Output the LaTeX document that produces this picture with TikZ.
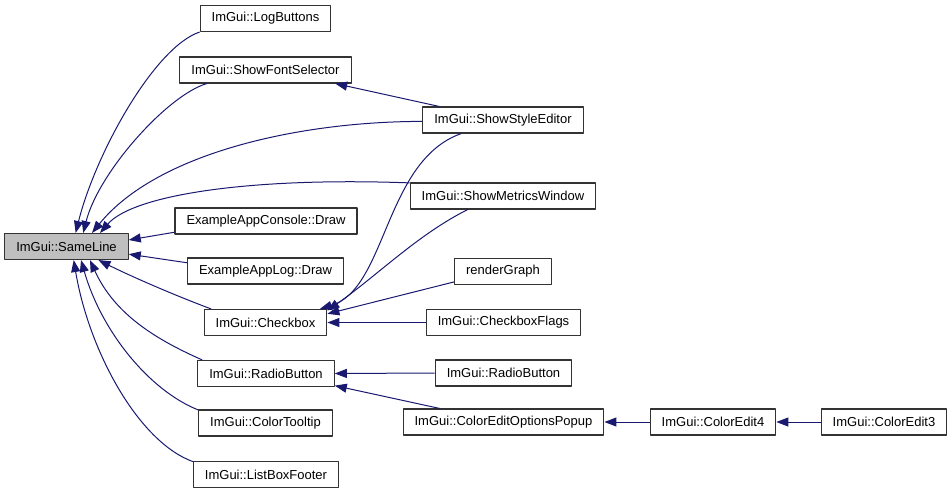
\documentclass[tikz,border=0pt]{standalone}
\usepackage{fontspec}
\setmainfont{Liberation Sans}
\usetikzlibrary{arrows.meta}
\definecolor{edgeblue}{RGB}{25, 25, 112}
\definecolor{rootgray}{RGB}{191, 191, 191}

\begin{document}
\begin{tikzpicture}[x=1pt, y=1pt, line join=round, >={Triangle[length=12pt, width=9pt]},
    fn/.style={draw=black!80, line width=1.1pt, inner xsep=11.5pt, inner ysep=0pt,
        minimum height=26pt, font=\fontsize{13}{15}\selectfont},
    root/.style={fn, fill=rootgray},
    call/.style={->, color=edgeblue, line width=1pt}]
    \useasboundingbox (0,0) rectangle (952,-493);

    % Hàm gốc
    \node[root] (sameline) at (66.5,-246.5) {ImGui::SameLine};

    % Cột thứ nhất
    \node[fn] (logbuttons) at (265.5,-18.5) {ImGui::LogButtons};
    \node[fn] (fontsel) at (265.5,-70) {ImGui::ShowFontSelector};
    \node[fn] (console) at (266,-221) {ExampleAppConsole::Draw};
    \node[fn] (applog) at (265.5,-271) {ExampleAppLog::Draw};
    \node[fn] (checkbox) at (265.5,-322.5) {ImGui::Checkbox};
    \node[fn] (radio) at (266,-373.5) {ImGui::RadioButton};
    \node[fn] (colortip) at (265.5,-423) {ImGui::ColorTooltip};
    \node[fn] (listbox) at (266,-474.5) {ImGui::ListBoxFooter};

    % Cột thứ hai
    \node[fn] (styleedit) at (503,-120) {ImGui::ShowStyleEditor};
    \node[fn] (metrics) at (503,-196) {ImGui::ShowMetricsWindow};
    \node[fn] (rendergraph) at (503,-271.5) {renderGraph};
    \node[fn] (flags) at (503.5,-322.5) {ImGui::CheckboxFlags};
    \node[fn] (radiotwo) at (503.5,-373) {ImGui::RadioButton};
    \node[fn] (popup) at (503.5,-422) {ImGui::ColorEditOptionsPopup};

    % Cột thứ ba, thứ tư
    \node[fn] (editfour) at (713,-422) {ImGui::ColorEdit4};
    \node[fn] (editthree) at (884,-422) {ImGui::ColorEdit3};

    % Lời gọi tới SameLine
    \draw[call] (logbuttons.south west) .. controls +(-45,-15) and +(20,80) .. (sameline.56);
    \draw[call] (fontsel.193) .. controls +(-40,-12) and +(15,60) .. (sameline.39);
    \draw[call] (styleedit.181) .. controls +(-123,0) and +(65,80) .. (sameline.28);
    \draw[call] (metrics.172) .. controls +(-160,6) and +(33,38) .. (sameline.22);
    \draw[call] (console.187) -- (sameline.6);
    \draw[call] (applog.174) -- (sameline.-7);
    \draw[call] (checkbox.166) .. controls +(-40,15) and +(30,-15) .. (sameline.-23);
    \draw[call] (radio.168) .. controls +(-45,20) and +(25,-55) .. (sameline.-30);
    \draw[call] (colortip.169) .. controls +(-50,20) and +(20,-70) .. (sameline.-43);
    \draw[call] (listbox.170) .. controls +(-55,20) and +(15,-90) .. (sameline.-62);

    % Các lời gọi còn lại
    \draw[call] (styleedit.168) -- (fontsel.-11);
    \draw[call] (styleedit.198) .. controls +(-77,-27) and +(67,20) .. (checkbox.14);
    \draw[call] (metrics.201) .. controls +(-50,-25) and +(50,35) .. (checkbox.11);
    \draw[call] (rendergraph.192) -- (checkbox.8);
    \draw[call] (flags.west) -- (checkbox.east);
    \draw[call] (radiotwo.west) -- (radio.east);
    \draw[call] (popup.168) -- (radio.-10);
    \draw[call] (editfour.west) -- (popup.east);
    \draw[call] (editthree.west) -- (editfour.east);
\end{tikzpicture}
\end{document}
